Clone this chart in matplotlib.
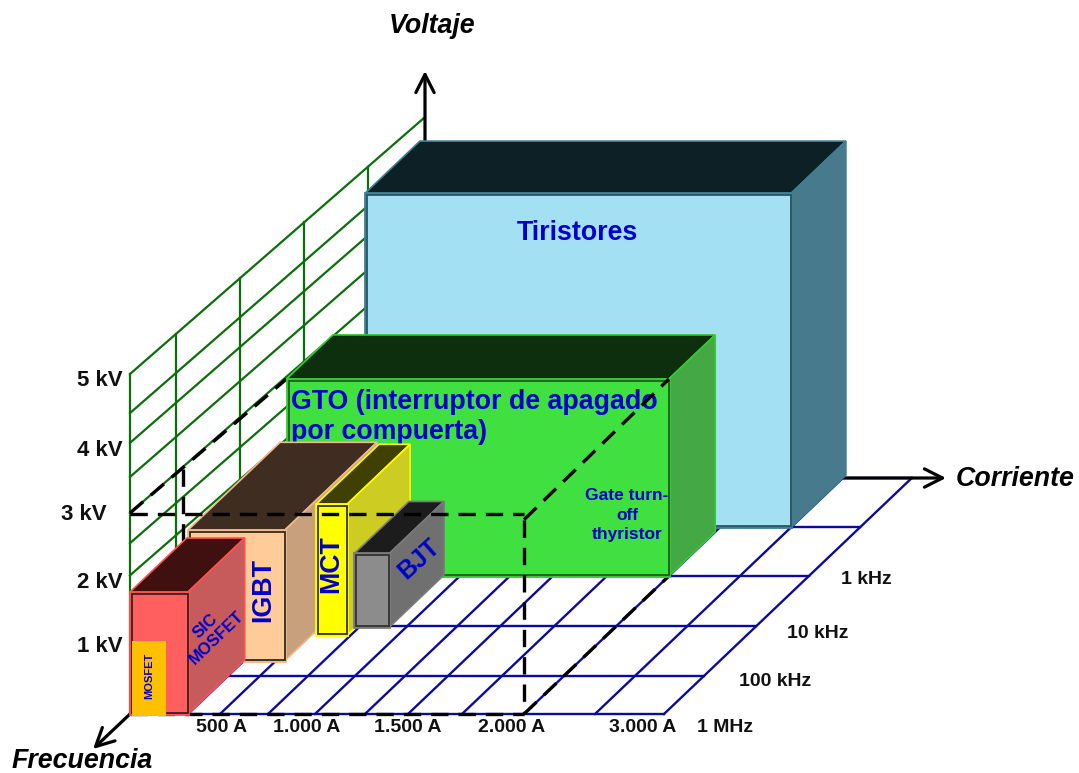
import numpy as np
import matplotlib
matplotlib.use('Agg')
import matplotlib.pyplot as plt
from matplotlib.patches import Polygon

plt.rcParams['font.family'] = ['Liberation Sans', 'DejaVu Sans']

# ejes: corriente (A), frecuencia (filas del suelo), voltaje (kV)
amps = [0, 250, 500, 750, 1000, 1250, 1500, 1750, 2000, 2500, 3000]
amps_x = [130, 188, 220, 268, 315, 365, 408, 462, 524, 595, 664]
rows = [0, 1, 2, 3, 4, 5]
rows_y = [714, 676, 626, 576, 527, 478]
kv = [0, 1, 2, 3, 4, 5]
kv_h = [0, 69, 134, 201, 269, 340]
wall_x = [130, 176, 240, 304, 368, 425]
wall_levels = [5, 4.45, 4.03, 3.53, 3, 2.55, 2.07]

amp_labels = ['500 A', '1.000 A', '1.500 A', '2.000 A', '3.000 A']
amp_label_x = [222, 307, 408, 512, 643]
kv_labels = ['5 kV', '4 kV', '3 kV', '2 kV', '1 kV']
kv_label_x = [123, 123, 107, 123, 123]
kv_label_y = [380, 451, 515, 582, 647]
freq_labels = ['1 kHz', '10 kHz', '100 kHz', '1 MHz']
freq_label_x = [866, 818, 775, 725]
freq_label_y = [580, 634, 682, 727]

# dispositivos, de atras hacia delante
names = ['Tiristores', 'GTO', 'IGBT', 'MCT', 'BJT', 'SiC']
amp_lo = [168, 50, 9, 568, 724, 0]
amp_hi = [2500, 2000, 547, 730, 910, 250]
row_front = [4.0, 3.0, 1.3, 1.82, 1.98, 0.0]
row_back = [5.06, 3.9, 3.06, 3.02, 3.02, 1.32]
kv_top = [4.915, 2.94, 1.95, 1.95, 1.07, 1.815]
col_face = ['#A4E0F3', '#3FE03F', '#FFCC99', '#FFFF00', '#8C8C8C', '#FF5F5F']
col_side = ['#467A8C', '#44A844', '#C8A17C', '#CCCC22', '#707070', '#C75B5B']
col_top = ['#0D2026', '#0D2F0D', '#3F2D22', '#404000', '#1C1C1C', '#3F1010']
col_edge = ['#3F7F93', '#33CC33', '#F0B98C', '#FFFF00', '#7A7A7A', '#FF5050']
col_inner = ['#2C5563', '#1D5F1D', '#33291F', '#333300', '#333333', '#3A2020']

mosfet_amp = 155
mosfet_kv = 1.06

SHEAR = 1.05
WALL_SLOPE = 0.871
NAVY = '#0A0A9E'
GREEN = '#0B6E0B'
BLUE = '#0000CC'


def proj(a, r, v):
    y = np.interp(r, rows, rows_y, right=rows_y[-1] - (r - rows[-1]) * 49)
    x = np.interp(a, amps, amps_x) + (714 - y) * SHEAR
    return x, y - np.interp(v, kv, kv_h)


def wall_pt(r, v):
    x = np.interp(r, rows, wall_x)
    return x, 714 - np.interp(v, kv, kv_h) - WALL_SLOPE * (x - 130)


def seg(ax, p, q, **kw):
    ax.plot([p[0], q[0]], [p[1], q[1]], **kw)


fig = plt.figure(figsize=(10.79, 7.73), dpi=100)
ax = fig.add_axes([0, 0, 1, 1])
ax.set_xlim(0, 1079)
ax.set_ylim(773, 0)
ax.axis('off')

# suelo
for r in rows:
    seg(ax, proj(0, r, 0), proj(3000, r, 0), color=NAVY, lw=1.7, zorder=1)
for a in amps[1:]:
    seg(ax, proj(a, 0, 0), proj(a, 5, 0), color=NAVY, lw=1.7, zorder=1)

# pared de voltaje
for v in wall_levels:
    seg(ax, wall_pt(0, v), wall_pt(5, v), color=GREEN, lw=1.6, zorder=1)
for r in rows[:-1]:
    seg(ax, wall_pt(r, 0), wall_pt(r, 5), color=GREEN, lw=1.6, zorder=1)

dash = dict(color='black', lw=2.4, dashes=(5.2, 3.0), dash_capstyle='butt')
# tramos que quedan detras de las cajas
seg(ax, proj(0, 1.25, 2.9), proj(0, 1.25, 0), zorder=2, **dash)
seg(ax, proj(0, 0, 0), proj(2000, 0, 0), zorder=2, **dash)
seg(ax, proj(2000, 0, 0), proj(2000, 3, 0), zorder=2, **dash)
seg(ax, proj(0, 0, 3), proj(50, 3, 2.94), zorder=2, **dash)

# ejes con flecha
arrow = dict(arrowstyle='->,head_length=0.65,head_width=0.33', color='black',
             lw=2.3, mutation_scale=20, shrinkA=0, shrinkB=0)
ax.annotate('', xy=(425, 71), xytext=(425, 145), arrowprops=arrow, zorder=2)
ax.annotate('', xy=(946, 478), xytext=(840, 478), arrowprops=arrow, zorder=2)
ax.annotate('', xy=(93, 749), xytext=(130, 714), arrowprops=arrow, zorder=2)

z = 3
for i in range(len(names)):
    lo, hi = amp_lo[i], amp_hi[i]
    f, b, v = row_front[i], row_back[i], kv_top[i]
    fl, fr = proj(lo, f, 0), proj(hi, f, 0)
    tl, tr = proj(lo, f, v), proj(hi, f, v)
    bl, br = proj(lo, b, v), proj(hi, b, v)
    bb = proj(hi, b, 0)
    ax.add_patch(Polygon([tl, bl, br, tr], fc=col_top[i], ec=col_edge[i], lw=1.2, zorder=z))
    ax.add_patch(Polygon([tr, br, bb, fr], fc=col_side[i], ec=col_edge[i], lw=1.2, zorder=z))
    ax.add_patch(Polygon([fl, fr, tr, tl], fc=col_face[i], ec=col_edge[i], lw=2, zorder=z))
    # linea oscura interior de la cara frontal
    ax.add_patch(Polygon([(fl[0] + 2, fl[1] - 1), (fr[0], fr[1] - 1), (tr[0], tr[1] + 2), (tl[0] + 2, tl[1] + 2)],
                         fc='none', ec=col_inner[i], lw=1.3, zorder=z))
    if names[i] == 'Tiristores':
        ax.text(577, 233, 'Tiristores', color=BLUE, fontsize=19.3, fontweight='bold',
                ha='center', va='center', zorder=z)
    if names[i] == 'GTO':
        ax.text(291, 417, 'GTO (interruptor de apagado\npor compuerta)', color=BLUE, fontsize=19.3,
                fontweight='bold', ha='left', va='center', linespacing=1.2, zorder=z)
        ax.text(627, 515, 'Gate turn-\noff\nthyristor', color=BLUE, fontsize=12.5, fontweight='bold',
                ha='center', va='center', linespacing=1.38, zorder=z)
    z += 1

# MOSFET dentro de la caja de SiC
m0 = proj(0, 0, 0)
m1 = proj(mosfet_amp, 0, mosfet_kv)
ax.add_patch(Polygon([(m0[0] + 2, m0[1] + 2), (m1[0], m0[1] + 2), m1, (m0[0] + 2, m1[1])],
                     fc='#FFC000', ec='none', zorder=z))

ax.text(263, 590, 'IGBT', color=BLUE, fontsize=19.4, fontweight='bold', rotation=90,
        ha='center', va='center', zorder=z)
ax.text(331, 564, 'MCT', color=BLUE, fontsize=19.3, fontweight='bold', rotation=90,
        ha='center', va='center', zorder=z)
ax.text(419, 559, 'BJT', color=BLUE, fontsize=18, fontweight='bold', rotation=42,
        ha='center', va='center', zorder=z)
ax.text(211, 632, 'SIC\nMOSFET', color=BLUE, fontsize=12, fontweight='bold', rotation=44,
        ha='center', va='center', linespacing=1.1, zorder=z)
ax.text(149, 676, 'MOSFET', color=BLUE, fontsize=8, fontweight='bold', rotation=90,
        ha='center', va='center', zorder=z)

# lineas punteadas por encima de las cajas
seg(ax, proj(0, 0, 2.985), proj(2000, 0, 2.985), zorder=z, **dash)
seg(ax, proj(2000, 0, 2.9), proj(2000, 0, 0), zorder=z, **dash)
seg(ax, proj(2000, 0, 2.9), proj(2000, 3, 2.94), zorder=z, **dash)

# textos de los ejes
tick = dict(color='#111111', fontsize=14, fontweight='bold', va='center', zorder=z)
for t, x in zip(amp_labels, amp_label_x):
    ax.text(x, 728, t, ha='center', **tick)
for t, x, y in zip(freq_labels, freq_label_x, freq_label_y):
    ax.text(x, y, t, ha='center', **tick)
for t, x, y in zip(kv_labels, kv_label_x, kv_label_y):
    ax.text(x, y, t, color='#111111', fontsize=16, fontweight='bold', ha='right', va='center', zorder=z)

title = dict(color='black', fontsize=19.3, fontweight='bold', fontstyle='italic', va='center', ha='center', zorder=z)
ax.text(432, 26, 'Voltaje', **title)
ax.text(1015, 479, 'Corriente', **title)
ax.text(82, 761, 'Frecuencia', **title)

plt.savefig('out.png', dpi=100)
